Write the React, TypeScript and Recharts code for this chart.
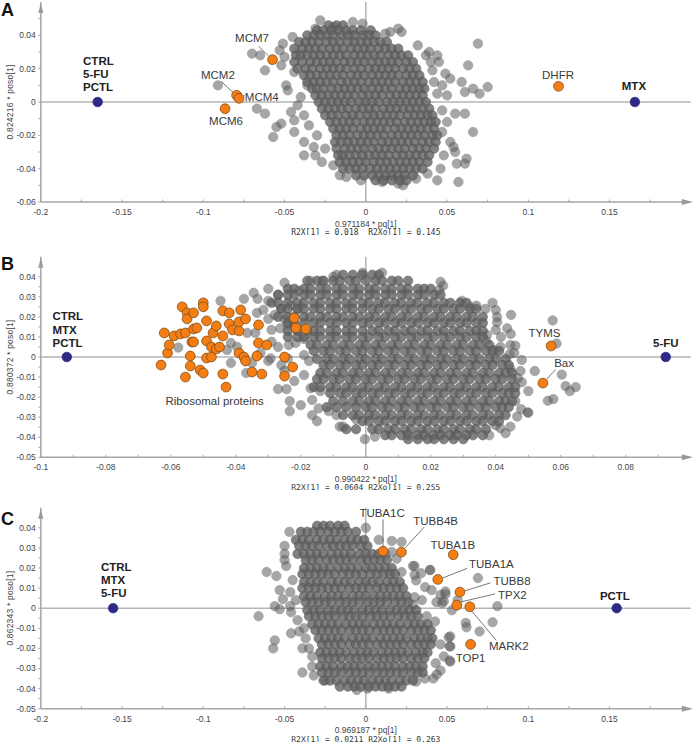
import { ScatterChart, Scatter, XAxis, YAxis, CartesianGrid, ReferenceDot, ReferenceLine } from "recharts";

// all point values are in thousandths of the axis unit
type Row = [number, number[]];
type Pair = [number, number];
type Note = [string, number, number, "start" | "middle", boolean?];

const ticksWideX = [-0.2, -0.175, -0.15, -0.125, -0.1, -0.075, -0.05, -0.025, 0, 0.025, 0.05, 0.075, 0.1, 0.125, 0.15, 0.175];
const labelsWideX = [-0.2, -0.15, -0.1, -0.05, 0, 0.05, 0.1, 0.15];
const ticksNarrowX = [-0.1, -0.09, -0.08, -0.07, -0.06, -0.05, -0.04, -0.03, -0.02, -0.01, 0, 0.01, 0.02, 0.03, 0.04, 0.05, 0.06, 0.07, 0.08, 0.09];
const labelsNarrowX = [-0.1, -0.08, -0.06, -0.04, -0.02, 0, 0.02, 0.04, 0.06, 0.08];
const ticksAY = [-0.06, -0.05, -0.04, -0.03, -0.02, -0.01, 0, 0.01, 0.02, 0.03, 0.04, 0.05];
const labelsAY = [-0.06, -0.04, -0.02, 0, 0.02, 0.04];
const ticksBY = [-0.05, -0.045, -0.04, -0.035, -0.03, -0.025, -0.02, -0.015, -0.01, -0.005, 0, 0.005, 0.01, 0.015, 0.02, 0.025, 0.03, 0.035, 0.04, 0.045];
const labelsBY = [-0.05, -0.04, -0.03, -0.02, -0.01, 0, 0.01, 0.02, 0.03, 0.04];

const coreA: Row[] = [
  [46, [-23, -18, -14]],
  [43, [-30, -26, -21, -17, -12, -8, -3, 3]],
  [40, [-36, -32, -28, -24, -20, -15, -11, -7, -2, 2, 6]],
  [36, [-41, -37, -33, -29, -24, -20, -16, -11, -7, -3, 1, 5, 9, 13]],
  [32, [-44, -39, -35, -31, -27, -22, -18, -14, -9, -5, -1, 3, 8, 12, 16, 20]],
  [28, [-43, -40, -36, -32, -28, -24, -20, -16, -12, -7, -3, 1, 5, 9, 14, 18, 22, 26]],
  [24, [-44, -39, -34, -30, -26, -22, -18, -13, -9, -5, -1, 4, 8, 12, 16, 20, 25, 29]],
  [20, [-42, -37, -33, -28, -24, -20, -16, -12, -7, -3, 2, 6, 10, 14, 18, 23, 27, 31]],
  [16, [-38, -34, -30, -26, -22, -18, -14, -9, -5, -1, 4, 8, 12, 16, 20, 25, 29, 33]],
  [12, [-36, -32, -28, -24, -20, -15, -11, -7, -3, 2, 6, 10, 14, 18, 23, 27, 31, 35]],
  [8, [-33, -30, -26, -21, -17, -13, -9, -5, -1, 4, 8, 12, 16, 21, 25, 29, 33, 36]],
  [4, [-31, -27, -23, -19, -15, -11, -7, -2, 2, 6, 10, 15, 19, 23, 27, 31, 35]],
  [0, [-29, -25, -21, -17, -13, -9, -4, 0, 4, 8, 13, 17, 21, 25, 29, 33, 37]],
  [-4, [-27, -23, -19, -15, -11, -6, -2, 2, 6, 11, 15, 19, 23, 27, 31, 35, 39]],
  [-8, [-25, -21, -17, -12, -8, -4, 1, 5, 9, 13, 17, 21, 26, 30, 34, 38, 41]],
  [-12, [-22, -18, -14, -10, -6, -1, 3, 7, 11, 15, 19, 24, 28, 32, 36, 40, 43]],
  [-16, [-20, -16, -12, -8, -3, 1, 5, 9, 13, 18, 22, 26, 30, 34, 38, 42]],
  [-20, [-18, -14, -10, -5, -1, 3, 7, 11, 16, 20, 24, 28, 32, 36, 41, 44]],
  [-24, [-19, -15, -11, -7, -3, 1, 5, 10, 14, 18, 22, 26, 30, 35, 39, 43]],
  [-28, [-18, -13, -9, -5, -1, 4, 8, 12, 16, 20, 24, 29, 33, 37, 42]],
  [-32, [-17, -14, -10, -6, -2, 2, 6, 10, 14, 19, 23, 27, 31, 35, 39]],
  [-36, [-16, -12, -8, -4, 0, 5, 9, 13, 17, 21, 25, 29, 33, 38]],
  [-40, [-14, -10, -6, -2, 3, 7, 11, 15, 19, 23, 27, 31, 35]],
  [-44, [-6, -1, 4, 8, 12, 16, 20, 24, 29]],
  [-47, [6, 11, 16, 21, 25]],
];

const edgeA: Pair[] = [
  [69, 35], [63, 22], [75, 9], [70, 5], [66, 8], [61, 6], [59, 12], [52, 14], [49, 17], [41, 19], [45, 24], [44, 28],
  [39, 30], [32, 34], [37, 28], [50, 4], [61, -7], [55, -7], [66, -18], [62, -34], [61, -37], [56, -37], [57, -48], [44, -47],
  [46, -40], [52, -24], [55, -30], [54, -27], [47, 10], [44, 5], [47, -5], [50, -12], [47, -18], [48, -32], [42, 12], [40, 24],
  [-70, 29], [-65, 28], [-62, 19], [-91, 10], [-67, -4], [-62, -7], [-52, -13], [-55, -15], [-57, -21], [-49, 10], [-48, 7], [-46, -6],
  [-44, -11], [-51, 35], [-53, 31], [-50, 27], [-52, 22], [-45, 39], [-38, -32], [-38, -24], [-31, -32], [-32, -27], [-27, -36], [-44, -18],
  [-28, 49], [-31, 44], [-8, 48], [-2, 47], [-20, 45], [20, 44], [22, 42], [15, 42], [12, 41], [-42, -2], [-38, -8], [-35, -14],
  [-30, -20], [-25, -28], [-20, -38], [-16, -44], [-12, -45], [-3, -47], [23, -50], [20, -49], [10, -48], [31, -46], [38, -43], [-44, 18],
  [-40, 3], [-36, 10],
];

const orangeA: Pair[] = [[-57.4, 25.4], [-79.5, 4], [-78, 2.2], [-86.6, -4], [118.6, 9.4]];
const blueA: Pair[] = [[-165, 0], [165.6, 0]];
const notesA: Note[] = [
  ["CTRL", -174, 24.6, "start", true], ["5-FU", -174, 17, "start", true], ["PCTL", -174, 9, "start", true], ["MTX", 165, 9.6, "middle", true],
  ["MCM7", -70, 38.6, "middle"], ["MCM2", -91, 16, "middle"], ["MCM4", -64, 3.2, "middle"], ["MCM6", -86, -11.4, "middle"], ["DHFR", 118.3, 16.2, "middle"],
];
const leadersA: [number, number, number, number][] = [[-66, 33.4, -59.8, 27.6], [-89, 12.4, -81, 5], [-74.5, 4, -76, 3]];

const coreB: Row[] = [
  [41, [-7, -4, -1, 2, 4]],
  [38, [-18, -15, -13, -10, -8, -5, -3, 0, 3, 5, 8, 10, 13]],
  [34, [-24, -22, -19, -17, -14, -12, -9, -7, -4, -2, 1, 3, 6, 8, 11, 13, 16, 18, 20]],
  [31, [-27, -24, -22, -19, -17, -14, -12, -9, -7, -4, -2, 1, 3, 6, 8, 11, 13, 16, 18, 21, 23]],
  [27, [-29, -27, -24, -21, -19, -16, -14, -11, -9, -6, -4, -1, 1, 4, 6, 9, 11, 14, 16, 19, 21, 24, 26, 29, 31]],
  [24, [-26, -24, -21, -19, -16, -14, -11, -9, -6, -4, -1, 2, 4, 7, 9, 12, 14, 17, 19, 22, 24, 27, 29, 32, 34]],
  [20, [-27, -24, -22, -19, -17, -14, -12, -9, -7, -4, -2, 1, 3, 6, 8, 11, 13, 16, 18, 21, 23, 26, 28, 31, 33, 36]],
  [17, [-24, -22, -19, -16, -14, -11, -9, -6, -4, -1, 1, 4, 6, 9, 11, 14, 16, 19, 21, 24, 26, 29, 31, 34, 36]],
  [13, [-24, -21, -18, -16, -14, -11, -9, -6, -4, -1, 2, 4, 7, 9, 12, 14, 17, 19, 22, 24, 27, 29, 32, 34, 36]],
  [10, [-24, -21, -19, -16, -14, -11, -9, -6, -4, -1, 1, 4, 6, 9, 11, 14, 16, 19, 21, 24, 26, 29, 31, 34, 36]],
  [6, [-17, -15, -12, -10, -7, -5, -2, 0, 3, 5, 8, 10, 13, 15, 18, 20, 23, 25, 28, 30, 33, 35, 38]],
  [3, [-16, -13, -11, -8, -6, -3, -1, 2, 4, 7, 9, 12, 14, 17, 19, 22, 24, 27, 29, 32, 34, 37, 39, 41]],
  [-1, [-15, -12, -10, -7, -5, -2, 0, 3, 5, 8, 10, 13, 15, 18, 20, 23, 25, 28, 30, 33, 35, 38, 40, 43]],
  [-4, [-13, -11, -8, -6, -3, -1, 2, 4, 7, 9, 12, 14, 17, 19, 22, 24, 27, 29, 32, 34, 37, 39, 42, 44]],
  [-8, [-14, -12, -9, -7, -4, -2, 1, 3, 6, 8, 11, 13, 16, 18, 21, 23, 26, 28, 31, 33, 36, 38, 41, 43, 45]],
  [-11, [-15, -13, -10, -8, -5, -3, 0, 2, 5, 7, 10, 12, 15, 17, 20, 22, 25, 27, 30, 32, 35, 37, 40, 42, 45]],
  [-15, [-16, -14, -11, -9, -6, -4, -1, 1, 4, 6, 9, 11, 14, 16, 19, 21, 24, 26, 29, 31, 34, 36, 39, 41, 44, 46]],
  [-18, [-11, -8, -6, -3, -1, 2, 4, 7, 9, 12, 14, 17, 19, 22, 24, 27, 29, 32, 34, 37, 39, 42, 44, 46]],
  [-22, [-10, -7, -4, -2, 1, 3, 6, 8, 11, 13, 16, 18, 21, 23, 26, 28, 31, 33, 36, 38, 41, 43, 45]],
  [-25, [-12, -9, -6, -3, 0, 2, 5, 7, 10, 12, 15, 17, 20, 22, 25, 27, 30, 32, 35, 37, 40, 42, 44]],
  [-29, [-7, -4, -2, 1, 3, 6, 8, 11, 13, 16, 18, 21, 23, 26, 28, 31, 33, 36, 38, 41, 43]],
  [-32, [-1, 1, 4, 6, 9, 11, 14, 16, 19, 21, 24, 26, 29, 31, 34, 36, 39, 41]],
  [-36, [-6, -3, 2, 4, 7, 9, 12, 14, 17, 19, 22, 24, 27, 29, 32, 34, 37]],
  [-39, [6, 8, 11, 13, 16, 18, 21, 23, 26, 28, 31, 33, 36]],
  [-41, [13, 16, 19, 21, 24, 27, 30]],
];

const edgeB: Pair[] = [
  [-44.7, 28], [-37.5, 29], [-34.5, 32], [-33.3, 29], [-30, 34], [-30, 28], [-27, 31], [-25, 37], [-33.5, 22], [-31.5, 23.5], [-30, 19], [-28, 21],
  [-34, 12], [-36.5, 12], [-41.5, 7], [-42.7, 3.5], [-39.6, 5], [-41.5, -3], [-57.7, 4.7], [-36.8, -8], [-35, -3], [-32.4, 2], [-29, 7.6], [-29.3, -0.7],
  [-27, 5], [-26, -4], [-23.7, 6], [-21.6, 7], [-19, 9], [-22, -12], [-27, -16], [-24.4, -16], [-23.4, -22], [-23.4, -27], [-20, -24], [-16.5, -21.4],
  [-16.5, -29], [-15, -32], [-14.5, -25.6], [-19, -9], [-17, -15.6], [-14, -17], [-11.4, -27], [-8, -34.7], [-26.3, 14.3], [-29, 13.5], [-24, 16], [-26, 24],
  [-20.6, 33], [-17, 38], [-13.4, 38], [-9, 41], [-23, 26], [-19, 1], [-17.5, -2], [-24, -0.7], [-25, -7], [-30, -2], [-21, 24], [-25, 19],
  [44.7, 21], [39, 27], [40, 23.4], [40.4, 20], [40.4, 17.3], [40, 13.5], [43.5, 14.3], [44.6, 11.5], [41.6, 10], [37.3, 11], [37, 8], [41.4, 5],
  [39.4, 3.5], [44.5, 6], [46, 5.6], [44.2, 1.3], [45.7, 2], [48, -1.5], [44.5, -6], [47.6, -7], [46.8, -10.6], [48, -12.6], [50, -17], [49.8, -27.6],
  [47.8, -26], [46.6, -29.7], [44.5, -34.7], [41.4, -35.5], [40, -34], [29.6, 28], [23.8, 35.5], [23, 37.5], [22.6, 33.4], [34, 25.6], [36.8, 24], [32, 25],
  [-0.3, -41], [2.8, -39.7], [-7, -34.7], [-3, -31], [-9, -29], [57.5, 18.2], [58.7, 6.7], [52, -7], [60.3, -8.8], [61.5, -14.5], [64.6, -15], [62.8, -17],
  [57.7, -21], [56, -21.8], [50, -27.8], [5, 42], [-10, 40], [-1, 42], [46, -22], [43, -38], [38, -39],
];

const orangeB: Pair[] = [
  [-63, -4], [-62, 12], [-61, 2], [-60.5, 6], [-59, 10.5], [-57, 11.5], [-55.5, 12], [-55.5, -10], [-56.5, 25], [-55, 22], [-55, 19], [-53, 22],
  [-54, 0.5], [-54, -4.5], [-53.5, 7.5], [-53, 7.5], [-53, 14], [-52, 14.5], [-51, -6.5], [-50, -8], [-50, 27], [-50, 25], [-49, 18], [-49, -0.5],
  [-49, 8], [-47.5, 0], [-47, 12], [-47.5, 5], [-46, 15.5], [-46, 4], [-45, 5], [-44, 23], [-44, 10.5], [-44, -8.5], [-43, -15], [-42, 22],
  [-42, 16.5], [-41, 13.5], [-39, 13], [-39, 17.5], [-38.5, 23.5], [-37, 19], [-39, 2], [-37.5, 0], [-37, -2], [-35, -7.5], [-33.5, 0.5], [-33, 7],
  [-33, 16], [-32, -8.5], [-30.5, 6], [-25, 0], [-25, -9.5], [-22.5, -5], [-22, 19.5], [-21.5, 14.5], [-18.5, 14], [57, 5.5], [54.5, -13],
];
const blueB: Pair[] = [[-92, 0], [92.3, 0]];
const notesB: Note[] = [
  ["CTRL", -96.4, 20.2, "start", true], ["MTX", -96.4, 13.5, "start", true], ["PCTL", -96.4, 6.8, "start", true], ["5-FU", 92.3, 6.8, "middle", true],
  ["TYMS", 55, 11.8, "middle"], ["Bax", 61, -3.2, "middle"], ["Ribosomal proteins", -46.5, -21.8, "middle"],
];
const leadersB: [number, number, number, number][] = [[58.4, -6.2, 55.7, -11]];

const coreC: Row[] = [
  [41, [-30, -26, -22, -17, -13]],
  [38, [-40, -36, -32, -28, -23, -19, -15, -11, -6]],
  [34, [-43, -39, -35, -30, -26, -22, -18, -13, -9, -5, -1]],
  [31, [-41, -37, -33, -29, -24, -20, -16, -12, -8, -3, 1]],
  [27, [-42, -38, -34, -30, -26, -21, -17, -13, -9, -4, 0, 4, 8]],
  [24, [-37, -33, -29, -24, -20, -16, -12, -8, -3, 1, 5, 9, 13]],
  [20, [-38, -34, -30, -26, -22, -17, -13, -9, -5, 0, 4, 8, 12, 16]],
  [17, [-39, -35, -31, -27, -23, -19, -14, -10, -6, -2, 3, 7, 11, 15, 18]],
  [13, [-38, -34, -30, -26, -21, -17, -13, -9, -4, 0, 4, 8, 13, 17, 21]],
  [10, [-39, -35, -31, -27, -23, -19, -15, -10, -6, -2, 2, 7, 11, 15, 19, 23]],
  [6, [-38, -34, -30, -25, -21, -17, -13, -8, -4, 0, 5, 9, 13, 17, 21, 25]],
  [3, [-37, -33, -29, -25, -21, -16, -12, -8, -4, 1, 5, 9, 13, 18, 22, 26]],
  [-1, [-36, -32, -28, -23, -19, -15, -11, -7, -2, 2, 6, 10, 15, 19, 23, 27, 31]],
  [-4, [-35, -31, -27, -23, -19, -14, -10, -6, -2, 3, 7, 11, 15, 20, 24, 28, 32]],
  [-8, [-33, -29, -25, -21, -17, -12, -8, -4, 0, 5, 9, 13, 17, 21, 26, 30, 34, 38]],
  [-11, [-31, -27, -23, -19, -15, -10, -6, -2, 2, 7, 11, 15, 19, 23, 28, 32, 36, 40]],
  [-15, [-29, -25, -21, -17, -13, -8, -4, 0, 4, 9, 13, 17, 21, 25, 30, 34, 38, 41]],
  [-18, [-27, -23, -19, -15, -10, -6, -2, 2, 7, 11, 15, 19, 23, 28, 32, 36, 40]],
  [-22, [-28, -24, -20, -16, -12, -7, -3, 1, 5, 10, 14, 18, 22, 26, 31, 35, 38]],
  [-25, [-27, -23, -19, -15, -10, -6, -2, 2, 7, 11, 15, 19, 23, 28, 32, 36]],
  [-29, [-28, -24, -20, -15, -11, -7, -3, 2, 6, 10, 14, 18, 23, 27, 31, 35]],
  [-32, [-27, -23, -19, -15, -10, -6, -2, 2, 7, 11, 15, 19, 23, 28, 32, 35]],
  [-36, [-26, -22, -18, -13, -9, -5, -1, 4, 8, 12, 16, 21, 25, 29]],
  [-39, [-16, -11, -7, -3, 2, 6, 10, 14, 18, 22]],
];

const edgeC: Pair[] = [
  [-66, -4], [-61, 18], [-55, 16], [-56, -16], [-57, -20], [-53, 9], [-56, 1], [-53, -0.5], [-51, 4.5], [-47, 38], [-50, 31], [-50, 27],
  [-50, 24], [-49, 21], [-46.5, 8], [-46.5, 1], [-46, -2], [-46, -12.5], [-39, -20], [-39, -32], [-32, -33.5], [-33, -29], [-41, -11.6], [-37, -15],
  [0, 40], [8, 34], [16, 33.5], [22, 33], [19, 24.6], [22, 18], [29, 21], [34, 17.4], [39.5, 19], [30, 16.6], [31, 13.8], [36.5, 10.5],
  [40.5, 9], [49, 8.3], [46, 6.6], [47, 2.5], [53, -1], [30, 5.5], [34.5, 4], [29, 1.7], [37.5, -4], [42.6, -6.6], [51, -14.5], [52, -19],
  [46, -18], [52, -26.6], [48, -24], [43, -27.4], [46, -31], [43.6, -33], [41.6, -35], [36.5, -35], [31, -36.5], [-5.5, -40.7], [1, -40], [14, -40],
  [-25, -36], [69, 15], [81, 1], [78, -7], [70, -11.6], [61.5, -7.3], [62, -9.5], [52, -14], [49, 7], [39.6, 19], [30, 21], [51.6, -19],
  [51.6, -26], [48, 3.5], [43.5, 3], [56.5, 4], [-45, 14], [-43, 4], [-42, -6], [-38, -10], [-35, -20], [-33, -24], [12, 27], [16, 28],
];

const orangeC: Pair[] = [[10.6, 28.4], [21.9, 27.9], [53.8, 26.6], [44.3, 14.3], [57.9, 8], [56, 1.5], [64, 0.7], [64.5, -18]];
const blueC: Pair[] = [[-155.5, 0], [154.4, 0]];
const notesC: Note[] = [
  ["CTRL", -163, 20.6, "start", true], ["MTX", -163, 14.1, "start", true], ["5-FU", -163, 7.5, "start", true], ["PCTL", 153.3, 6.3, "middle", true],
  ["TUBA1C", 10, 47.2, "middle"], ["TUBB4B", 43, 43.2, "middle"], ["TUBA1B", 53.5, 31.4, "middle"], ["TUBA1A", 77.3, 21.9, "middle"],
  ["TUBB8", 90, 13.3, "middle"], ["TPX2", 90.2, 6.5, "middle"], ["MARK2", 88, -18.9, "middle"], ["TOP1", 64.5, -24.9, "middle"],
];
const leadersC: [number, number, number, number][] = [
  [10.6, 44.2, 10.6, 30.4], [36, 40.4, 24.2, 30], [62.3, 19.8, 47.3, 15], [76.7, 12.6, 60.4, 8.5], [79.5, 7.1, 59, 3.2], [80.3, -16, 65.3, -1.5],
];

const SANS = "'Liberation Sans', Arial, sans-serif";
const MONO = "'DejaVu Sans Mono', monospace";
const AXIS = "#a6a6a6";

const rowsToPoints = (rows: Row[]) => rows.flatMap(([y, xs]) => xs.map((x) => ({ x: x / 1000, y: y / 1000 })));
const pairsToPoints = (pairs: Pair[]) => pairs.map(([x, y]) => ({ x: x / 1000, y: y / 1000 }));

const dot = (r: number, fill: string, stroke: string, opacity: number) => (p: any) => (
  <circle cx={p.cx} cy={p.cy} r={r} fill={fill} stroke={stroke} strokeWidth={0.7} opacity={opacity} />
);

function XTick({ x, y, payload, labels }: any) {
  const major = labels.includes(payload.value);
  return (
    <g>
      <line x1={x} x2={x} y1={y} y2={y - 2.5} stroke={AXIS} />
      {major && (
        <text x={x} y={y + 13} textAnchor="middle" fontFamily={SANS} fontSize={8.5} fill="#444">
          {String(payload.value)}
        </text>
      )}
    </g>
  );
}

function YTick({ x, y, payload, labels }: any) {
  const major = labels.includes(payload.value);
  return (
    <g>
      <line x1={x} x2={x - 2.5} y1={y} y2={y} stroke={AXIS} />
      {major && (
        <text x={x - 5} y={y + 3} textAnchor="end" fontFamily={SANS} fontSize={8.5} fill="#444">
          {String(payload.value)}
        </text>
      )}
    </g>
  );
}

interface PanelProps {
  letter: string;
  top: number;
  letterTop: number;
  marginTop: number;
  plotHeight: number;
  xMax: number;
  yMax: number;
  yMin: number;
  xTicks: number[];
  xLabels: number[];
  yTicks: number[];
  yLabels: number[];
  core: Row[];
  edge: Pair[];
  orange: Pair[];
  blue: Pair[];
  notes: Note[];
  leaders: [number, number, number, number][];
  xTitle: string;
  yTitle: string;
  stats: string;
}

function Panel(props: PanelProps) {
  const { xMax, yMax, yMin } = props;
  const xMin = -xMax;
  return (
    <div style={{ position: "absolute", left: 0, top: props.top, width: 696 }}>
      <div style={{ position: "absolute", left: 1, top: props.letterTop, font: "bold 18px 'Liberation Sans', Arial, sans-serif", color: "#111", lineHeight: "18px" }}>
        {props.letter}
      </div>
      <ScatterChart
        width={696}
        height={props.marginTop + props.plotHeight + 33}
        margin={{ top: props.marginTop, right: 5.2, bottom: 3, left: 0 }}
        style={{ overflow: "visible" }}
      >
        <CartesianGrid horizontal vertical horizontalValues={[0]} verticalValues={[0]} stroke="#b5b5b5" strokeWidth={1.5} />
        <XAxis
          dataKey="x"
          type="number"
          domain={[xMin, xMax]}
          ticks={props.xTicks}
          interval={0}
          height={30}
          tickSize={0}
          tickMargin={0}
          allowDataOverflow
          stroke={AXIS}
          strokeWidth={1.5}
          tick={<XTick labels={props.xLabels} />}
        />
        <YAxis
          dataKey="y"
          type="number"
          domain={[yMin, yMax]}
          ticks={props.yTicks}
          interval={0}
          width={40.8}
          tickSize={0}
          tickMargin={0}
          allowDataOverflow
          stroke={AXIS}
          strokeWidth={1.5}
          tick={<YTick labels={props.yLabels} />}
        />
        <Scatter data={pairsToPoints(props.edge)} isAnimationActive={false} shape={dot(4.7, "#5f5f5f", "#4c4c4c", 0.55)} />
        <Scatter data={rowsToPoints(props.core)} isAnimationActive={false} shape={dot(4.7, "#626262", "#4f4f4f", 0.8)} />
        <Scatter data={pairsToPoints(props.orange)} isAnimationActive={false} shape={dot(4.9, "#f47d14", "#6e4313", 1)} />
        <Scatter data={pairsToPoints(props.blue)} isAnimationActive={false} shape={dot(4.8, "#2c2a85", "#2c2a85", 1)} />
        {props.leaders.map(([x1, y1, x2, y2], i) => (
          <ReferenceLine
            key={i}
            segment={[{ x: x1 / 1000, y: y1 / 1000 }, { x: x2 / 1000, y: y2 / 1000 }]}
            stroke="#555"
            strokeWidth={0.8}
            ifOverflow="visible"
          />
        ))}
        {props.notes.map(([text, x, y, anchor, bold]) => (
          <ReferenceDot
            key={text}
            x={x / 1000}
            y={y / 1000}
            r={0}
            ifOverflow="visible"
            shape={(p: any) => (
              <text x={p.cx} y={p.cy + 4} textAnchor={anchor} fontFamily={SANS} fontSize={11.5} fontWeight={bold ? 700 : 400} fill={bold ? "#222" : "#3a3a3a"}>
                {text}
              </text>
            )}
          />
        ))}
        <ReferenceDot
          x={0}
          y={yMin}
          r={0}
          ifOverflow="visible"
          shape={(p: any) => (
            <g>
              <text x={p.cx} y={p.cy + 24.5} textAnchor="middle" fontFamily={SANS} fontSize={8.5} fill="#444">{props.xTitle}</text>
              <text x={p.cx} y={p.cy + 33} textAnchor="middle" fontFamily={MONO} fontSize={8} fill="#333" style={{ whiteSpace: "pre" }}>{props.stats}</text>
            </g>
          )}
        />
        <ReferenceDot
          x={xMin}
          y={0}
          r={0}
          ifOverflow="visible"
          shape={(p: any) => (
            <text transform={`translate(${p.cx - 28},${p.cy}) rotate(-90)`} textAnchor="middle" fontFamily={SANS} fontSize={8.5} letterSpacing={0.2} fill="#444">
              {props.yTitle}
            </text>
          )}
        />
        <ReferenceDot
          x={xMax}
          y={yMin}
          r={0}
          ifOverflow="visible"
          shape={(p: any) => <polygon points={`${p.cx + 2},${p.cy} ${p.cx - 9},${p.cy - 3} ${p.cx - 9},${p.cy + 3}`} fill="#999" />}
        />
        <ReferenceDot
          x={xMin}
          y={yMax}
          r={0}
          ifOverflow="visible"
          shape={(p: any) => <polygon points={`${p.cx},${p.cy + 1} ${p.cx - 2.5},${p.cy + 11} ${p.cx + 2.5},${p.cy + 11}`} fill="#999" />}
        />
      </ScatterChart>
    </div>
  );
}

export default function App() {
  return (
    <div style={{ position: "absolute", left: 0, top: 0, width: 696, height: 748, background: "#fff", overflow: "hidden" }}>
      <Panel
        letter="A" top={0} letterTop={1} marginTop={2} plotHeight={200} xMax={0.2} yMax={0.06} yMin={-0.06}
        xTicks={ticksWideX} xLabels={labelsWideX} yTicks={ticksAY} yLabels={labelsAY}
        core={coreA} edge={edgeA} orange={orangeA} blue={blueA} notes={notesA} leaders={leadersA}
        xTitle="0.971184 * pq[1]" yTitle="0.824216 * poso[1]" stats="R2X[1] = 0.018  R2Xo[1] = 0.145"
      />
      <Panel
        letter="B" top={250} letterTop={5} marginTop={6.7} plotHeight={200.6} xMax={0.1} yMax={0.05} yMin={-0.05}
        xTicks={ticksNarrowX} xLabels={labelsNarrowX} yTicks={ticksBY} yLabels={labelsBY}
        core={coreB} edge={edgeB} orange={orangeB} blue={blueB} notes={notesB} leaders={leadersB}
        xTitle="0.990422 * pq[1]" yTitle="0.880372 * poso[1]" stats="R2X[1] = 0.0604 R2Xo[1] = 0.255"
      />
      <Panel
        letter="C" top={498} letterTop={12} marginTop={9.7} plotHeight={201} xMax={0.2} yMax={0.05} yMin={-0.05}
        xTicks={ticksWideX} xLabels={labelsWideX} yTicks={ticksBY} yLabels={labelsBY}
        core={coreC} edge={edgeC} orange={orangeC} blue={blueC} notes={notesC} leaders={leadersC}
        xTitle="0.969187 * pq[1]" yTitle="0.862343 * poso[1]" stats="R2X[1] = 0.0211 R2Xo[1] = 0.263"
      />
    </div>
  );
}
